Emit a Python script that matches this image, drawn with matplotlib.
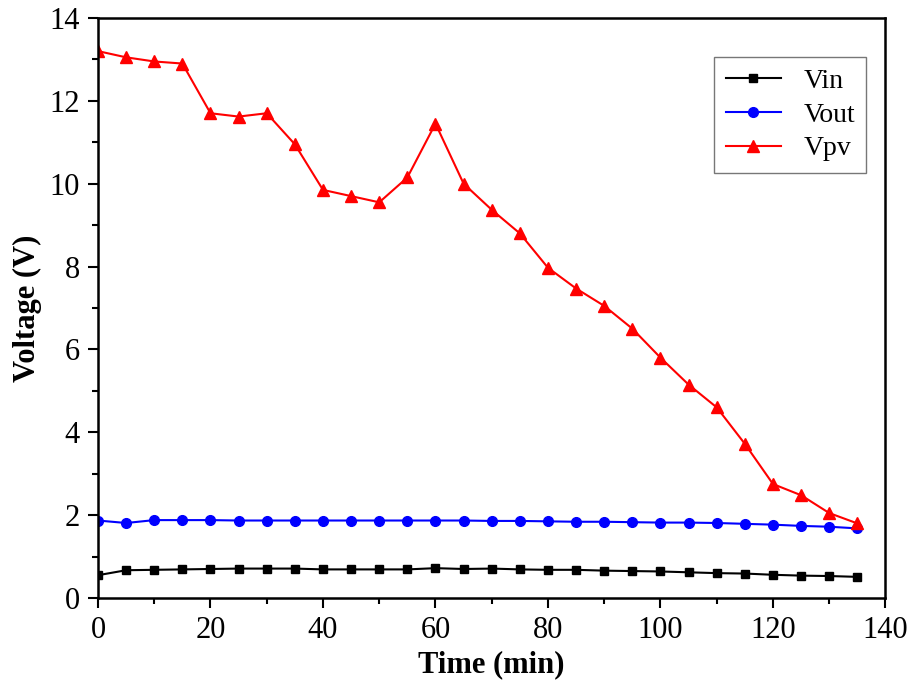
import numpy as np
import matplotlib.pyplot as plt

plt.rcParams['font.family'] = ['Liberation Serif', 'DejaVu Serif']

time = [0, 5, 10, 15, 20, 25, 30, 35, 40, 45, 50, 55, 60, 65, 70,
        75, 80, 85, 90, 95, 100, 105, 110, 115, 120, 125, 130, 135]

vin = [0.55, 0.67, 0.68, 0.69, 0.70, 0.71, 0.71, 0.71, 0.69, 0.69, 0.69, 0.69, 0.72, 0.70,
       0.71, 0.69, 0.68, 0.68, 0.66, 0.65, 0.64, 0.62, 0.60, 0.59, 0.56, 0.54, 0.53, 0.51]

vout = [1.87, 1.81, 1.88, 1.88, 1.88, 1.87, 1.87, 1.87, 1.87, 1.87, 1.87, 1.87, 1.87, 1.87,
        1.86, 1.86, 1.85, 1.84, 1.84, 1.83, 1.82, 1.82, 1.81, 1.79, 1.77, 1.74, 1.72, 1.68]

vpv = [13.2, 13.05, 12.95, 12.9, 11.7, 11.62, 11.7, 10.95, 9.85, 9.7, 9.55, 10.15, 11.45, 10.0,
       9.37, 8.8, 7.97, 7.47, 7.05, 6.5, 5.8, 5.15, 4.6, 3.72, 2.75, 2.48, 2.05, 1.8]

fig = plt.figure(figsize=(9.2, 6.91), dpi=100)
ax = fig.add_axes([0.1065, 0.1346, 0.856, 0.8394])

ax.plot(time, vin, color='black', marker='s', markersize=6, linewidth=1.5, label='Vin')
ax.plot(time, vout, color='blue', marker='o', markersize=7, linewidth=1.5, label='Vout')
ax.plot(time, vpv, color='red', marker='^', markersize=8, linewidth=1.5, label='Vpv')

ax.set_xlim(0, 140)
ax.set_ylim(0, 14)
ax.set_xticks(np.arange(0, 141, 20))
ax.set_xticks(np.arange(10, 140, 20), minor=True)
ax.set_yticks(np.arange(0, 15, 2))
ax.set_yticks(np.arange(1, 14, 2), minor=True)
ax.tick_params(which='major', direction='out', length=7, width=1.5, labelsize=22, pad=6)
ax.tick_params(which='minor', direction='out', length=4, width=1.5)
for s in ax.spines.values():
    s.set_linewidth(1.8)

ax.set_xlabel('Time (min)', fontsize=22, fontweight='bold', labelpad=4)
ax.set_ylabel('Voltage (V)', fontsize=22, fontweight='bold', labelpad=5)

leg = ax.legend(loc='upper right', bbox_to_anchor=(0.993, 0.956), fontsize=20, fancybox=False,
                edgecolor='#555555', handlelength=2.0, borderpad=0.4, labelspacing=0.3)
leg.get_frame().set_linewidth(1.0)

fig.savefig('out.png', dpi=100)
